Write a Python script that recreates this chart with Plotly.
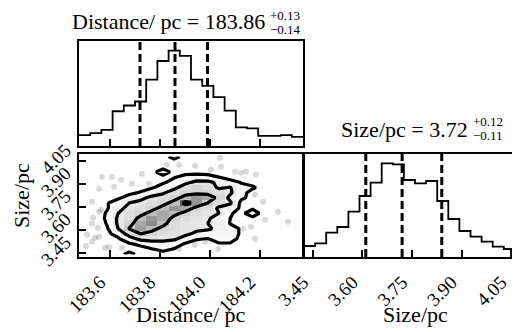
import numpy as np
import plotly.graph_objects as go

# ---------------- data ----------------
dist_range = [183.476, 184.372]
size_range = [3.423, 4.095]
n_bins = 20

dist_counts = [32, 38, 48, 103, 120, 132, 197, 252, 283, 267,
               197, 178, 145, 105, 55, 52, 30, 30, 32, 27]
size_counts = [33, 41, 73, 90, 136, 183, 223, 281, 278, 231,
               221, 228, 168, 114, 78, 61, 46, 31, 24, 30]

dist_quantiles = [183.72, 183.86, 183.99]
size_quantiles = [3.61, 3.72, 3.84]

dist_ticks = [183.6, 183.8, 184.0, 184.2]
dist_ticktext = ["183.6", "183.8", "184.0", "184.2"]
size_ticks = [3.45, 3.60, 3.75, 3.90, 4.05]
size_ticktext = ["3.45", "3.60", "3.75", "3.90", "4.05"]

# 2D density (rows: Size bins from bottom, cols: Distance bins from left)
density = [
    [0, 0, 0, 1, 2, 1, 1, 1, 0, 0, 0, 0, 0, 0, 0, 0, 0, 0, 0, 0],
    [0, 0, 0, 0, 1, 1, 1.4, 1.8, 1.4, 1, 0, 0, 0, 0, 0, 0, 0, 0, 0, 0],
    [0, 0, 0, 0, 1.3, 1.8, 2.5, 2.8, 2.2, 1.3, 1, 1, 1.3, 1.3, 0, 0, 0, 0, 0, 0],
    [0, 0, 0, 1.3, 2.5, 4, 4.2, 4, 3.8, 2.5, 1.6, 1.4, 2.2, 2.2, 1, 0, 0, 0, 0, 0],
    [0, 0, 1.2, 2, 4.5, 5.5, 5, 4.5, 4.3, 4, 3, 2.5, 2.5, 2.5, 1.2, 0, 0, 0, 0, 0],
    [0, 0.5, 1.3, 3.5, 5.6, 6.8, 6, 5, 4.5, 4, 4, 3.8, 3, 2.5, 1.2, 0, 0, 0, 0, 0],
    [0, 0.5, 1.6, 3.8, 5, 6.5, 7.2, 6, 4.5, 4, 3.8, 3.5, 3.2, 1.4, 1.2, 0, 0, 0, 0, 0],
    [0, 0.5, 1.8, 3.8, 4.5, 6, 7, 6.5, 5, 4.5, 4, 3.8, 2.5, 1.5, 1, 1.2, 0, 0, 0, 0],
    [0, 0.5, 1.7, 3.5, 4.5, 5, 6, 6.5, 6, 5, 4.5, 4, 3.5, 1.6, 1.2, 2.2, 1, 0, 0, 0],
    [0, 1, 1.3, 3, 4, 4.5, 5, 6, 7, 6.5, 5, 4.5, 3.2, 2.5, 1.2, 1.3, 0, 0, 0, 0],
    [0, 1, 1.4, 2.2, 3.5, 4, 4.5, 5, 6, 8, 7, 5.5, 4.5, 3.8, 1.0, 1, 0, 0, 0, 0],
    [0, 0, 1, 1.3, 2, 3, 4, 4.5, 5, 6, 7, 6.5, 5, 3.0, 1.8, 1, 0, 0, 0, 0],
    [0, 0, 0, 1, 1.2, 1.6, 2.5, 3.2, 4.5, 5, 5, 5, 4.5, 3.8, 2, 1, 0, 0, 0, 0],
    [0, 0, 0, 0, 0, 1, 1.3, 2.2, 3, 4.5, 5, 4.5, 3.2, 3.6, 2, 1.7, 1, 0, 0, 0],
    [0, 1, 1, 1, 1, 1, 1, 1.3, 2, 3, 4, 4, 3, 2, 1.4, 1, 1, 0, 0, 0],
    [0, 0, 1, 1, 1, 1, 1, 1, 1.4, 2, 2.2, 2, 1.5, 1, 1, 1, 0, 0, 0, 0],
    [0, 0, 1, 1, 1, 1, 1, 2.3, 1, 1, 1, 1, 1, 1, 1, 1, 0, 0, 0, 0],
    [0, 0, 0, 1, 1, 1, 1, 1, 1, 1, 1, 1, 1, 1, 1, 0, 0, 0, 0, 0],
    [0, 0, 0, 0, 1, 1, 1, 1, 1, 1, 1, 1, 1, 0, 0, 0, 0, 0, 0, 0],
    [0, 0, 0, 0, 0, 0, 1, 1, 2, 1, 1, 0, 0, 0, 0, 0, 0, 0, 0, 0],
]

# individual samples visible outside the contours
sample_dist = [183.828, 183.876, 183.568, 183.608, 183.644, 183.688, 183.756, 183.556,
               183.616, 183.528, 183.556, 183.528, 183.508, 183.528, 183.556, 183.596,
               183.648, 183.876, 184.044, 184.100, 184.144, 184.184, 184.004, 183.940,
               184.180, 184.212, 184.272, 184.312, 184.220, 184.164, 184.132, 184.180,
               184.032, 183.980, 183.940, 184.124, 183.540, 183.580, 183.552, 183.532,
               183.564, 183.728, 184.040, 183.504]
sample_size = [4.025, 4.025, 3.947, 3.947, 3.927, 3.901, 3.901, 3.868,
               3.881, 3.783, 3.718, 3.640, 3.568, 3.522, 3.555, 3.489,
               3.483, 3.476, 4.012, 3.980, 3.980, 3.960, 3.993, 4.019,
               3.829, 3.783, 3.718, 3.653, 3.666, 3.620, 3.607, 3.542,
               3.476, 3.522, 3.502, 3.973, 3.548, 3.483, 3.614, 3.679,
               3.731, 3.966, 4.071, 3.496]

# ---------------- layout helpers (pixels of the 520x332 canvas) ----------------
W, H = 520, 332
def fx(p):
    return p / W
def fy(p):
    return 1 - p / H

SERIF = "Liberation Serif, Times New Roman, serif"
BLACK = "black"

dist_edges = np.linspace(dist_range[0], dist_range[1], n_bins + 1)
size_edges = np.linspace(size_range[0], size_range[1], n_bins + 1)
dist_centers = 0.5 * (dist_edges[:-1] + dist_edges[1:])
size_centers = 0.5 * (size_edges[:-1] + size_edges[1:])

fig = go.Figure()

# ---- top histogram (Distance) ----
d_top = 1.1 * max(dist_counts)
fig.add_trace(go.Scatter(
    x=dist_edges, y=list(dist_counts) + [dist_counts[-1]],
    mode="lines", line=dict(color=BLACK, width=1.8, shape="hv"),
    xaxis="x", yaxis="y", hoverinfo="skip"))
for q in dist_quantiles:
    fig.add_trace(go.Scatter(
        x=[q, q], y=[0, d_top], mode="lines",
        line=dict(color=BLACK, width=3, dash="8px,4px"),
        xaxis="x", yaxis="y", hoverinfo="skip"))

# ---- 2D panel ----
fig.add_trace(go.Scatter(
    x=sample_dist, y=sample_size, mode="markers",
    marker=dict(color="rgba(0,0,0,0.15)", size=6, line=dict(width=0)),
    xaxis="x2", yaxis="y2", hoverinfo="skip"))
fig.add_trace(go.Heatmap(
    x=dist_centers, y=size_centers, z=density, zmin=0, zmax=8,
    colorscale=[[0.0, "rgba(255,255,255,0)"], [1.45 / 8, "rgba(255,255,255,0)"],
                [1.5 / 8, "rgb(255,255,255)"], [3.5 / 8, "rgb(236,236,236)"],
                [5.5 / 8, "rgb(205,205,205)"], [7.0 / 8, "rgb(150,150,150)"],
                [1.0, "rgb(100,100,100)"]],
    showscale=False, xaxis="x2", yaxis="y2", hoverinfo="skip"))
fig.add_trace(go.Contour(
    x=dist_centers, y=size_centers, z=density,
    contours=dict(start=1.5, end=7.5, size=2, coloring="none"),
    line=dict(color=BLACK, width=3.2, smoothing=0),
    showscale=False, xaxis="x2", yaxis="y2", hoverinfo="skip"))

# ---- right histogram (Size) ----
s_top = 1.1 * max(size_counts)
fig.add_trace(go.Scatter(
    x=size_edges, y=list(size_counts) + [size_counts[-1]],
    mode="lines", line=dict(color=BLACK, width=1.8, shape="hv"),
    xaxis="x3", yaxis="y3", hoverinfo="skip"))
for q in size_quantiles:
    fig.add_trace(go.Scatter(
        x=[q, q], y=[0, s_top], mode="lines",
        line=dict(color=BLACK, width=3, dash="8px,4px"),
        xaxis="x3", yaxis="y3", hoverinfo="skip"))

frame = dict(showline=True, mirror=True, linecolor=BLACK, linewidth=1.5,
             showgrid=False, zeroline=False, automargin=False)
tickfont = dict(family=SERIF, size=19, color=BLACK)

fig.update_layout(
    width=W, height=H, margin=dict(l=0, r=0, t=0, b=0),
    paper_bgcolor="white", plot_bgcolor="white", showlegend=False,
    xaxis=dict(domain=[fx(71), fx(295)], anchor="y", range=dist_range,
               tickvals=dist_ticks, ticks="inside", ticklen=7, tickwidth=1.5,
               tickcolor=BLACK, showticklabels=False, **frame),
    yaxis=dict(domain=[fy(138), fy(33)], anchor="x", range=[0, d_top],
               showticklabels=False, ticks="", **frame),
    xaxis2=dict(domain=[fx(71), fx(295)], anchor="y2", range=dist_range,
                tickvals=dist_ticks, ticktext=dist_ticktext, ticks="inside",
                ticklen=7, tickwidth=1.5, tickcolor=BLACK, tickangle=-45,
                tickfont=tickfont, ticklabelshift=-10, ticklabelstandoff=5,
                ticklabeloverflow="allow", **frame),
    yaxis2=dict(domain=[fy(249), fy(146)], anchor="x2", range=size_range,
                tickvals=size_ticks, ticktext=size_ticktext, ticks="inside",
                ticklen=7, tickwidth=1.5, tickcolor=BLACK, tickangle=-45,
                tickfont=tickfont, ticklabelshift=-13, ticklabelstandoff=8,
                ticklabeloverflow="allow", **frame),
    xaxis3=dict(domain=[fx(296), fx(518)], anchor="y3", range=size_range,
                tickvals=size_ticks, ticktext=size_ticktext, ticks="inside",
                ticklen=7, tickwidth=1.5, tickcolor=BLACK, tickangle=-45,
                tickfont=tickfont, ticklabelshift=-10, ticklabelstandoff=5,
                ticklabeloverflow="allow", **frame),
    yaxis3=dict(domain=[fy(249), fy(146)], anchor="x3", range=[0, s_top],
                showticklabels=False, ticks="", **frame),
)

title_font = dict(family=SERIF, size=22, color=BLACK)
script_font = dict(family=SERIF, size=13, color=BLACK)
ann = [
    # diagonal titles
    dict(text="Distance/ pc = 183.86", x=fx(259), y=fy(13), xanchor="right", yanchor="middle", font=title_font),
    dict(text="+0.13", x=fx(260), y=fy(7), xanchor="left", yanchor="middle", font=script_font),
    dict(text="\u22120.14", x=fx(260), y=fy(21), xanchor="left", yanchor="middle", font=script_font),
    dict(text="Size/pc = 3.72", x=fx(462), y=fy(121), xanchor="right", yanchor="middle", font=title_font),
    dict(text="+0.12", x=fx(463), y=fy(113), xanchor="left", yanchor="middle", font=script_font),
    dict(text="\u22120.11", x=fx(463), y=fy(127), xanchor="left", yanchor="middle", font=script_font),
    # axis labels
    dict(text="Distance/ pc", x=fx(183), y=fy(306), xanchor="center", yanchor="middle", font=title_font),
    dict(text="Size/pc", x=fx(407), y=fy(306), xanchor="center", yanchor="middle", font=title_font),
    dict(text="Size/pc", x=fx(13), y=fy(188), xanchor="center", yanchor="middle", textangle=-90, font=title_font),
]
for a in ann:
    a.update(xref="paper", yref="paper", showarrow=False)
fig.update_layout(annotations=ann)

fig.write_html("out.html")
